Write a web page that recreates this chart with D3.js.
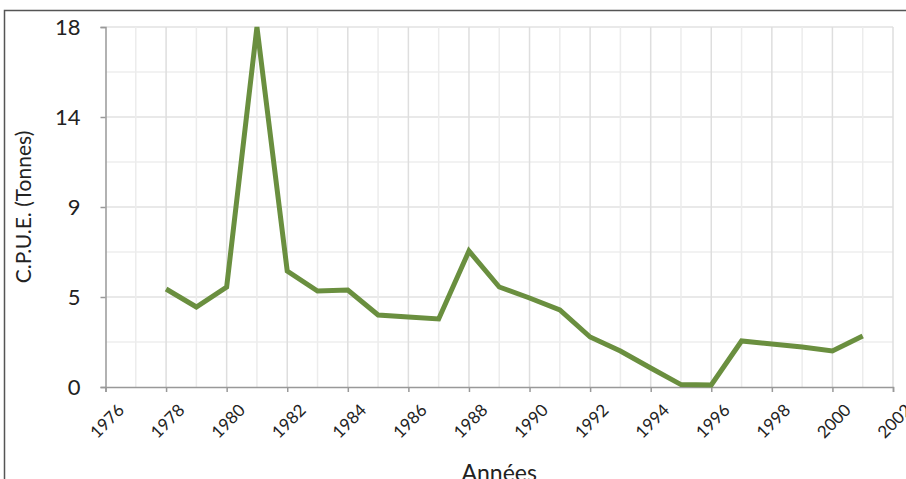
<!DOCTYPE html>
<html>
<head>
<meta charset="utf-8">
<script src="https://cdn.jsdelivr.net/npm/d3@7"></script>
<style>
body { margin: 0; background: #fff; }
text { font-family: Lato, "Noto Sans", sans-serif; fill: #222; }
</style>
</head>
<body>
<div id="canvas"></div>
<script>
var years = [1978, 1979, 1980, 1981, 1982, 1983, 1984, 1985, 1986, 1987, 1988, 1989,
    1990, 1991, 1992, 1993, 1994, 1995, 1996, 1997, 1998, 1999, 2000, 2001]
var cpue = [4.9, 4.0, 5.0, 18, 5.8, 4.8, 4.85, 3.6, 3.5, 3.4, 6.8, 5.0,
    4.45, 3.85, 2.5, 1.8, 0.95, 0.12, 0.1, 2.3, 2.15, 2.0, 1.8, 2.55]
var yTicks = [0, 4.5, 9, 13.5, 18]
var yTickLabels = ["0", "5", "9", "14", "18"]
var xTicks = d3.range(1976, 2003, 2)

var width = 906
var height = 479
var margin = {left: 105.5, right: 13, top: 27, bottom: 92}

var svg = d3.select("#canvas").append("svg")
    .attr("width", width)
    .attr("height", height)

// outer frame
svg.append("rect")
    .attr("x", 4.5).attr("y", 10.5)
    .attr("width", 920).attr("height", 500)
    .attr("fill", "none")
    .attr("stroke", "#555")
    .attr("stroke-width", 1.5)

var x = d3.scaleLinear().domain([1976, 2002]).range([margin.left, width - margin.right])
var y = d3.scaleLinear().domain([0, 18]).range([height - margin.bottom, margin.top])

var grid = svg.append("g")
// horizontal grid, minor then major
grid.selectAll(".hminor").data(d3.range(2.25, 18, 4.5)).enter().append("line")
    .attr("x1", x(1976)).attr("x2", x(2002))
    .attr("y1", d => y(d)).attr("y2", d => y(d))
    .attr("stroke", "#eeeeee").attr("stroke-width", 1.5)
grid.selectAll(".hmajor").data(yTicks.slice(1)).enter().append("line")
    .attr("x1", x(1976)).attr("x2", x(2002))
    .attr("y1", d => y(d)).attr("y2", d => y(d))
    .attr("stroke", "#e2e2e2").attr("stroke-width", 1.5)
// vertical grid, every year
grid.selectAll(".v").data(d3.range(1977, 2003)).enter().append("line")
    .attr("x1", d => x(d)).attr("x2", d => x(d))
    .attr("y1", y(0)).attr("y2", y(18))
    .attr("stroke", d => d % 2 == 0 ? "#dedede" : "#ececec")
    .attr("stroke-width", 1.5)

// axes
var yAxis = svg.append("g")
    .attr("transform", "translate(" + margin.left + ",0)")
    .call(d3.axisLeft(y).tickValues(yTicks).tickSize(5).tickFormat((d, i) => yTickLabels[i]))
yAxis.select(".domain").attr("stroke", "#999").attr("stroke-width", 1.5)
yAxis.selectAll(".tick line").attr("stroke", "#999").attr("stroke-width", 1.5)
yAxis.selectAll(".tick text")
    .attr("x", -25)
    .attr("font-size", 22)
    .attr("font-family", "Lato, 'Noto Sans', sans-serif")
    .attr("fill", "#222")

var xAxis = svg.append("g")
    .attr("transform", "translate(0," + y(0) + ")")
    .call(d3.axisBottom(x).tickValues(xTicks).tickSize(5).tickFormat(d3.format("d")))
xAxis.select(".domain").attr("stroke", "#999").attr("stroke-width", 1.5)
xAxis.selectAll(".tick line").attr("stroke", "#999").attr("stroke-width", 1.5)
xAxis.selectAll(".tick text")
    .attr("y", 0)
    .attr("dy", "0.35em")
    .attr("text-anchor", "middle")
    .attr("transform", "translate(1,34) rotate(-45)")
    .attr("font-size", 17)
    .attr("font-family", "Lato, 'Noto Sans', sans-serif")
    .attr("fill", "#222")

// line
var line = d3.line()
    .x((d, i) => x(years[i]))
    .y(d => y(d))
svg.append("path")
    .datum(cpue)
    .attr("d", line)
    .attr("fill", "none")
    .attr("stroke", "#6a8f3f")
    .attr("stroke-width", 5)
    .attr("stroke-linejoin", "miter")

// titles
svg.append("text")
    .attr("transform", "translate(31," + (y(9) + 0) + ") rotate(-90)")
    .attr("text-anchor", "middle")
    .attr("font-size", 21)
    .text("C.P.U.E. (Tonnes)")
svg.append("text")
    .attr("x", (x(1976) + x(2002)) / 2)
    .attr("y", 481)
    .attr("text-anchor", "middle")
    .attr("font-size", 23)
    .text("Années")
</script>
</body>
</html>
